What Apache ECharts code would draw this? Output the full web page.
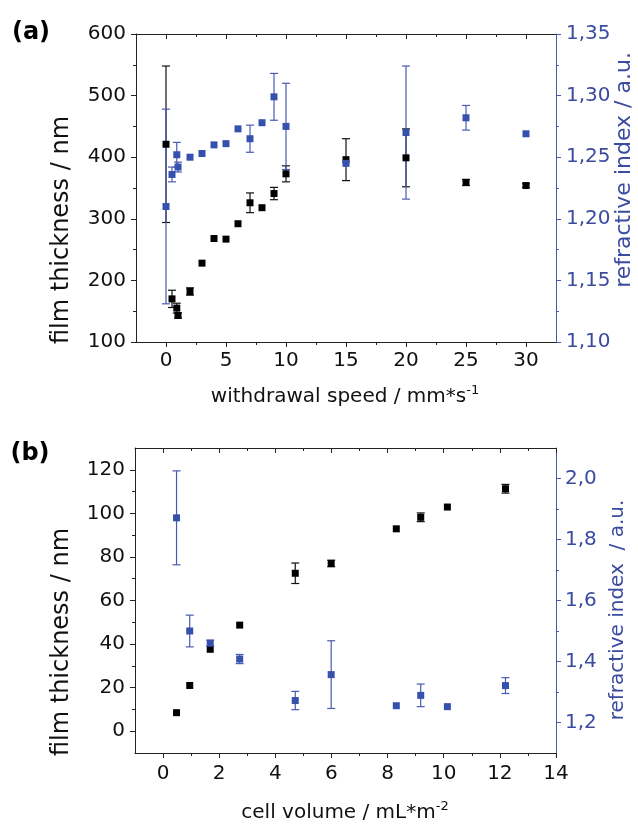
<!DOCTYPE html>
<html><head><meta charset="utf-8">
<script src="https://cdn.jsdelivr.net/npm/echarts@6/dist/echarts.min.js"></script>
<style>html,body{margin:0;padding:0;background:#fff}#c{width:638px;height:824px}</style>
</head><body><div id="c"></div>
<script>
// ---- Panel (a) data ----
const speedA    = [0, 0.5, 0.9, 1, 2, 3, 4, 5, 6, 7, 8, 9, 10, 15, 20, 25, 30];
const thickA    = [421, 170, 155, 143, 182, 228, 268, 267, 292, 326, 318, 341, 373, 396, 399, 359, 354];
const thickErrA = [127, 14, 8, 4, 6, 0, 0, 0, 0, 16, 0, 10, 13, 34, 47, 5, 3];
const riA       = [1.210, 1.236, 1.252, 1.242, 1.250, 1.253, 1.260, 1.261, 1.273, 1.265, 1.278, 1.299, 1.275, 1.245, 1.270, 1.282, 1.269];
const riErrA    = [0.079, 0.006, 0.010, 0.004, 0, 0, 0, 0, 0, 0.011, 0, 0.019, 0.035, 0, 0.054, 0.010, 0];
// ---- Panel (b) data ----
const volB      = [0.48, 0.95, 1.68, 2.73, 4.71, 5.99, 8.31, 9.18, 10.13, 12.2];
const thickB    = [8.5, 21, 37.6, 48.7, 72.5, 77, 92.9, 98.2, 102.9, 111.3];
const thickErrB = [0, 0, 0, 0, 4.7, 1.5, 0, 2, 0, 2];
const riB       = [1.871, 1.500, 1.460, 1.408, 1.272, 1.357, 1.255, 1.289, 1.252, 1.321];
const riErrB    = [0.154, 0.052, 0.010, 0.015, 0.030, 0.111, 0, 0.037, 0, 0.026];
// ---- Tick values ----
const ticksXA = [0, 5, 10, 15, 20, 25, 30];
const minorXA = [2.5, 7.5, 12.5, 17.5, 22.5, 27.5];
const ticksYA = [100, 200, 300, 400, 500, 600];
const minorYA = [150, 250, 350, 450, 550];
const ticksRA = [1.10, 1.15, 1.20, 1.25, 1.30, 1.35];
const minorRA = [1.125, 1.175, 1.225, 1.275, 1.325];
const ticksXB = [0, 2, 4, 6, 8, 10, 12, 14];
const minorXB = [1, 3, 5, 7, 9, 11, 13];
const ticksYB = [0, 20, 40, 60, 80, 100, 120];
const minorYB = [10, 30, 50, 70, 90, 110];
const ticksRB = [1.2, 1.4, 1.6, 1.8, 2.0];
const minorRB = [1.3, 1.5, 1.7, 1.9];

const FONT = 'DejaVu Sans';
const K = '#222';
const BLUE = '#3550ad';
const BLUE_AXIS = '#4a5ab0';
const BLUE_TEXT = '#3b4b9f';

function zip(xs, ys, es) { return xs.map((x, i) => es ? [x, ys[i], es[i]] : [x, ys[i]]); }

function errorBars(color) {
  return function (params, api) {
    const x = api.value(0), y = api.value(1), e = api.value(2);
    if (!e) return { type: 'group', children: [] };
    const t = api.coord([x, y + e]);
    const b = api.coord([x, y - e]);
    const w = 4;
    const style = { stroke: color, lineWidth: 1.2, fill: null };
    return { type: 'group', children: [
      { type: 'line', shape: { x1: t[0], y1: t[1], x2: b[0], y2: b[1] }, style: style },
      { type: 'line', shape: { x1: t[0] - w, y1: t[1], x2: t[0] + w, y2: t[1] }, style: style },
      { type: 'line', shape: { x1: b[0] - w, y1: b[1], x2: b[0] + w, y2: b[1] }, style: style }
    ]};
  };
}

function axis(o) {
  const lineColor = o.color || K;
  return {
    type: 'value', gridIndex: o.grid, position: o.pos, min: o.min, max: o.max,
    axisLine: { show: !!o.line, onZero: false, lineStyle: { color: lineColor, width: 1 } },
    axisTick: { show: true, inside: !!o.inside, length: o.len, customValues: o.ticks, lineStyle: { color: lineColor, width: 1 } },
    axisLabel: o.labels ? { show: true, customValues: o.ticks, fontFamily: FONT, fontSize: 20,
      color: o.labelColor || '#111', margin: o.margin, formatter: o.fmt } : { show: false },
    splitLine: { show: false }
  };
}

const fmt2 = v => v.toFixed(2).replace('.', ',');
const fmt1 = v => v.toFixed(1).replace('.', ',');

const option = {
  animation: false,
  backgroundColor: '#fff',
  grid: [
    { left: 136, top: 34, width: 420, height: 308 },
    { left: 135, top: 448, width: 421, height: 305 }
  ],
  xAxis: [
    axis({ grid: 0, pos: 'bottom', min: -2.5, max: 32.5, line: true, len: 5, ticks: ticksXA, labels: true, margin: 9 }),
    axis({ grid: 0, pos: 'bottom', min: -2.5, max: 32.5, len: 3, ticks: minorXA }),
    axis({ grid: 0, pos: 'top', min: -2.5, max: 32.5, line: true, inside: true, len: 5, ticks: ticksXA }),
    axis({ grid: 0, pos: 'top', min: -2.5, max: 32.5, inside: true, len: 3, ticks: minorXA }),
    axis({ grid: 1, pos: 'bottom', min: -1, max: 14, line: true, len: 5, ticks: ticksXB, labels: true, margin: 11 }),
    axis({ grid: 1, pos: 'bottom', min: -1, max: 14, len: 3, ticks: minorXB }),
    axis({ grid: 1, pos: 'top', min: -1, max: 14, line: true, inside: true, len: 5, ticks: ticksXB }),
    axis({ grid: 1, pos: 'top', min: -1, max: 14, inside: true, len: 3, ticks: minorXB })
  ],
  yAxis: [
    axis({ grid: 0, pos: 'left', min: 100, max: 600, line: true, len: 5, ticks: ticksYA, labels: true, margin: 10 }),
    axis({ grid: 0, pos: 'left', min: 100, max: 600, len: 3, ticks: minorYA }),
    axis({ grid: 0, pos: 'right', min: 1.10, max: 1.35, line: true, len: 5, ticks: ticksRA, labels: true, margin: 10,
      color: BLUE_AXIS, labelColor: BLUE_TEXT, fmt: fmt2 }),
    axis({ grid: 0, pos: 'right', min: 1.10, max: 1.35, len: 3, ticks: minorRA, color: BLUE_AXIS }),
    axis({ grid: 1, pos: 'left', min: -10, max: 130, line: true, len: 5, ticks: ticksYB, labels: true, margin: 10 }),
    axis({ grid: 1, pos: 'left', min: -10, max: 130, len: 3, ticks: minorYB }),
    axis({ grid: 1, pos: 'right', min: 1.1, max: 2.1, line: true, len: 5, ticks: ticksRB, labels: true, margin: 9,
      color: BLUE_AXIS, labelColor: BLUE_TEXT, fmt: fmt1 }),
    axis({ grid: 1, pos: 'right', min: 1.1, max: 2.1, len: 3, ticks: minorRB, color: BLUE_AXIS })
  ],
  series: [
    { type: 'custom', xAxisIndex: 0, yAxisIndex: 0, data: zip(speedA, thickA, thickErrA), renderItem: errorBars('#111'), encode: { x: 0, y: 1 } },
    { type: 'scatter', xAxisIndex: 0, yAxisIndex: 0, data: zip(speedA, thickA), symbol: 'rect', symbolSize: 7, itemStyle: { color: '#000', opacity: 1 } },
    { type: 'custom', xAxisIndex: 0, yAxisIndex: 2, data: zip(speedA, riA, riErrA), renderItem: errorBars(BLUE_AXIS), encode: { x: 0, y: 1 } },
    { type: 'scatter', xAxisIndex: 0, yAxisIndex: 2, data: zip(speedA, riA), symbol: 'rect', symbolSize: 7, itemStyle: { color: BLUE, opacity: 1 } },
    { type: 'custom', xAxisIndex: 4, yAxisIndex: 4, data: zip(volB, thickB, thickErrB), renderItem: errorBars('#111'), encode: { x: 0, y: 1 } },
    { type: 'scatter', xAxisIndex: 4, yAxisIndex: 4, data: zip(volB, thickB), symbol: 'rect', symbolSize: 7, itemStyle: { color: '#000', opacity: 1 } },
    { type: 'custom', xAxisIndex: 4, yAxisIndex: 6, data: zip(volB, riB, riErrB), renderItem: errorBars(BLUE_AXIS), encode: { x: 0, y: 1 } },
    { type: 'scatter', xAxisIndex: 4, yAxisIndex: 6, data: zip(volB, riB), symbol: 'rect', symbolSize: 7, itemStyle: { color: BLUE, opacity: 1 } }
  ],
  graphic: [
    { type: 'text', x: 31, y: 33, style: { text: '(a)', font: 'bold 24px "DejaVu Sans"', fill: '#000', align: 'center', verticalAlign: 'middle' } },
    { type: 'text', x: 30, y: 454, style: { text: '(b)', font: 'bold 24px "DejaVu Sans"', fill: '#000', align: 'center', verticalAlign: 'middle' } },
    { type: 'text', x: 62, y: 230, rotation: Math.PI / 2, style: { text: 'film thickness / nm', font: '24px "DejaVu Sans"', fill: '#111', align: 'center', verticalAlign: 'middle' } },
    { type: 'text', x: 62, y: 642, rotation: Math.PI / 2, style: { text: 'film thickness / nm', font: '24px "DejaVu Sans"', fill: '#111', align: 'center', verticalAlign: 'middle' } },
    { type: 'text', x: 624, y: 170, rotation: Math.PI / 2, style: { text: 'refractive index / a.u.', font: '22px "DejaVu Sans"', fill: BLUE_TEXT, align: 'center', verticalAlign: 'middle' } },
    { type: 'text', x: 618, y: 610, rotation: Math.PI / 2, style: { text: 'refractive index  / a.u.', font: '20px "DejaVu Sans"', fill: BLUE_TEXT, align: 'center', verticalAlign: 'middle' } },
    { type: 'text', x: 345, y: 397, style: { text: '{m|withdrawal speed / mm*s}{s|-1}', align: 'center', verticalAlign: 'middle',
      rich: { m: { fontFamily: FONT, fontSize: 20, fill: '#111', lineHeight: 26 }, s: { fontFamily: FONT, fontSize: 13, fill: '#111', verticalAlign: 'top', lineHeight: 14 } } } },
    { type: 'text', x: 345, y: 813, style: { text: '{m|cell volume / mL*m}{s|-2}', align: 'center', verticalAlign: 'middle',
      rich: { m: { fontFamily: FONT, fontSize: 20, fill: '#111', lineHeight: 26 }, s: { fontFamily: FONT, fontSize: 13, fill: '#111', verticalAlign: 'top', lineHeight: 14 } } } }
  ]
};
const chart = echarts.init(document.getElementById('c'), null, { renderer: 'canvas' });
chart.setOption(option);
</script>
</body></html>
